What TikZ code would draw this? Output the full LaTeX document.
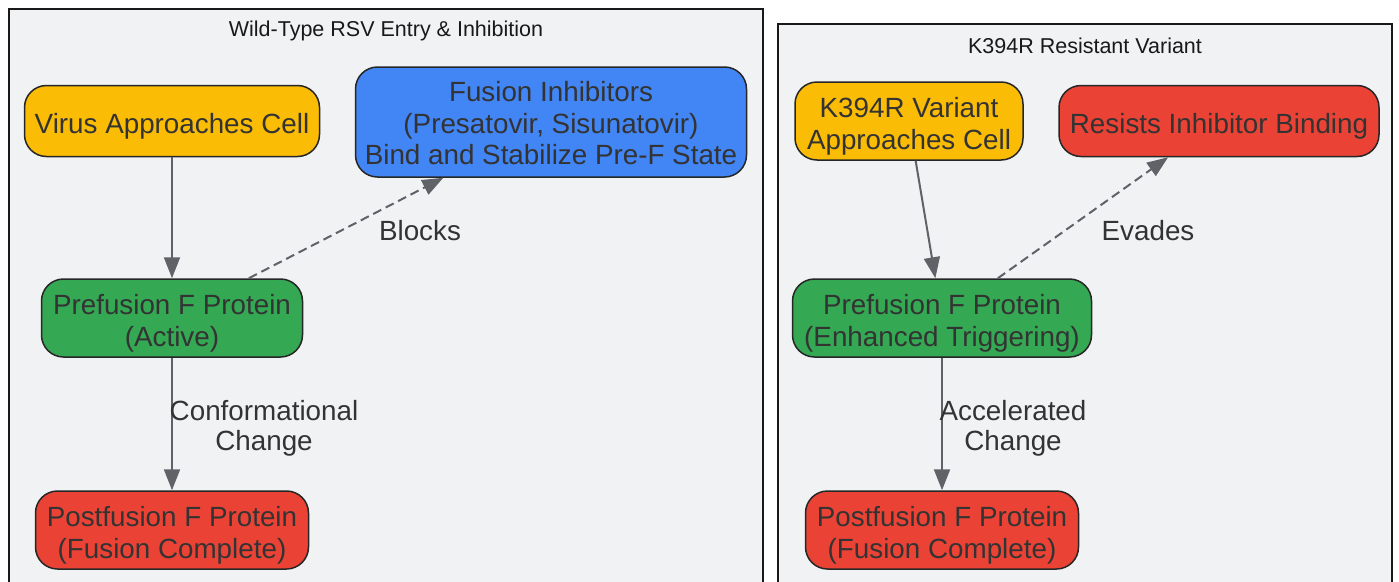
\documentclass[tikz,border=0pt]{standalone}
\usepackage{fontspec}
\setmainfont{Liberation Sans}
\usepackage{tikz}
\usetikzlibrary{arrows.meta, positioning}

\definecolor{panelbg}{HTML}{F1F2F4}
\definecolor{txtgray}{HTML}{333333}
\definecolor{edgegray}{HTML}{5F6368}
\definecolor{gyellow}{HTML}{FBBC05}
\definecolor{gblue}{HTML}{4285F4}
\definecolor{ggreen}{HTML}{34A853}
\definecolor{gred}{HTML}{EA4335}

\tikzset{
  panel/.style={fill=panelbg, draw=black!90, line width=1.6pt},
  paneltitle/.style={text=black!90, font=\fontsize{21.5}{25}\selectfont},
  stage/.style={draw=black!85, line width=1.5pt, rounded corners=22pt, align=center,
    text=txtgray, font=\fontsize{27.8}{31.5}\selectfont, inner sep=0pt,
    text height=30.5pt},
  twolines/.style={text height=62pt},
  threelines/.style={text height=85.5pt},
  flow/.style={draw=edgegray, line width=2pt, -{Triangle[length=21pt,width=16pt]}},
  blockflow/.style={flow, dash pattern=on 9pt off 5pt},
  edgelabel/.style={text=txtgray, align=center, font=\fontsize{27.8}{30}\selectfont},
}

\begin{document}
\begin{tikzpicture}[x=1pt, y=-1pt]
\fill[white] (0,0) rectangle (1399,581);
\clip (0,0) rectangle (1399,581);

% Wild-type panel
\draw[panel] (9,9) rectangle (763,620);
\node[paneltitle] (wttitle) at (386,31) {Wild-Type RSV Entry \& Inhibition};

\node[stage, fill=gyellow, minimum width=295pt, minimum height=71pt] (virus) at (172,121) {Virus Approaches Cell};
\node[stage, threelines, fill=gblue, minimum width=391pt, minimum height=110pt] (inhib) at (551,122) {Fusion Inhibitors\\(Presatovir, Sisunatovir)\\Bind and Stabilize Pre-F State};
\node[stage, twolines, fill=ggreen, minimum width=261pt, minimum height=78pt] (prewt) at (172,318) {Prefusion F Protein\\(Active)};
\node[stage, twolines, fill=gred, minimum width=273pt, minimum height=78pt] (postwt) at (172,530) {Postfusion F Protein\\(Fusion Complete)};

\draw[flow] (virus) -- (prewt);
\draw[blockflow] (prewt) -- (inhib);
\draw[flow] (prewt) -- (postwt);
\node[edgelabel] (blocks) at (420,231) {Blocks};
\node[edgelabel] (conf) at (264,428) {Conformational\\Change};

% K394R panel
\draw[panel] (778,24) rectangle (1392,620);
\node[paneltitle] (mttitle) at (1085,46) {K394R Resistant Variant};

\node[stage, twolines, fill=gyellow, minimum width=228pt, minimum height=78pt] (variant) at (909,121) {K394R Variant\\Approaches Cell};
\node[stage, fill=gred, minimum width=320pt, minimum height=71pt] (resists) at (1219,121) {Resists Inhibitor Binding};
\node[stage, twolines, fill=ggreen, minimum width=299pt, minimum height=78pt] (premt) at (942,318) {Prefusion F Protein\\(Enhanced Triggering)};
\node[stage, twolines, fill=gred, minimum width=273pt, minimum height=78pt] (postmt) at (942,530) {Postfusion F Protein\\(Fusion Complete)};

\draw[flow] (variant) -- (premt);
\draw[blockflow] (premt) -- (resists);
\draw[flow] (premt) -- (postmt);
\node[edgelabel] (evades) at (1148,231) {Evades};
\node[edgelabel] (accel) at (1013,428) {Accelerated\\Change};
\end{tikzpicture}
\end{document}
